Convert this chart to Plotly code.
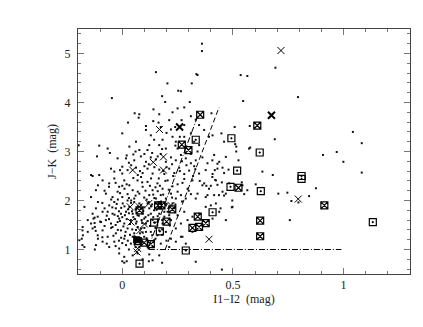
import plotly.graph_objects as go

# J-K vs I1-I2 colour-colour diagram

# field sources (small dots), (I1-I2, J-K)
field_dots = [
    # J-K above 4
    (0.36, 5.20), (0.36, 5.05), (0.152, 4.62), (0.335, 4.58), (0.34, 4.56), (0.204, 4.39),
    (0.314, 4.39), (0.253, 4.24), (0.265, 4.23), (0.18, 4.13), (-0.047, 4.09), (0.305, 4.01),
    (0.692, 4.71), (0.535, 4.56), (0.565, 4.54), (0.794, 4.11), (0.546, 4.03), (0.194, 4.01),
    # 3.5 - 4
    (0.056, 3.78), (0.077, 3.76), (0.074, 3.69), (0.141, 3.86), (0.167, 3.76), (0.25, 3.88),
    (0.227, 3.80), (0.31, 3.72), (0.212, 3.64), (0.164, 3.59), (0.107, 3.52), (0.026, 3.59),
    (0.268, 3.64), (0.332, 3.65), (0.239, 3.50), (0.174, 3.50), (0.28, 3.54), (0.403, 3.78),
    (0.508, 3.50), (0.576, 3.52), (0.14, 3.62), (0.28, 3.9), (0.22, 3.45),
    # 3 - 3.5
    (0.2, 3.38), (0.0, 3.37), (-0.104, 3.12), (-0.066, 3.06), (-0.056, 2.97), (0.107, 3.44),
    (0.129, 3.33), (0.144, 3.24), (0.182, 3.24), (0.227, 3.30), (0.242, 3.20), (0.122, 3.13),
    (0.167, 3.13), (0.197, 3.06), (0.25, 3.06), (0.062, 3.20), (0.032, 3.10), (0.077, 3.03),
    (0.114, 3.03), (0.28, 3.30), (0.31, 3.37), (0.325, 3.20), (0.347, 3.13), (0.347, 3.54),
    (0.37, 3.44), (0.392, 3.30), (0.408, 3.33), (0.448, 3.37), (0.46, 3.20), (0.515, 3.10),
    (0.515, 3.00), (0.689, 3.25), (0.51, 3.15), (0.578, 3.08), (0.573, 3.06), (-0.197, 3.13),
    (1.042, 3.40), (1.082, 3.17), (0.24, 3.12), (0.1, 2.95), (0.06, 3.0), (0.02, 2.92),
    (0.18, 3.05), (0.26, 3.3), (0.34, 3.0), (0.31, 2.95),
    # 2.5 - 3
    (-0.021, 2.86), (0.017, 2.86), (0.054, 2.82), (0.084, 2.90), (0.107, 2.79), (0.129, 2.88),
    (0.152, 2.84), (0.174, 2.95), (0.197, 2.79), (0.22, 2.88), (0.242, 2.82), (0.265, 2.93),
    (0.287, 2.86), (0.31, 2.76), (0.332, 2.82), (0.362, 2.88), (0.385, 2.76), (0.415, 2.93),
    (0.438, 2.79), (0.468, 2.89), (-0.051, 2.65), (-0.036, 2.59), (0.0, 2.69), (0.024, 2.62),
    (0.062, 2.67), (0.092, 2.56), (0.114, 2.65), (0.137, 2.55), (0.167, 2.63), (0.19, 2.54),
    (0.212, 2.65), (0.235, 2.56), (0.257, 2.67), (0.28, 2.54), (0.302, 2.61), (0.325, 2.70),
    (0.347, 2.55), (0.377, 2.62), (0.408, 2.54), (0.43, 2.65), (0.46, 2.56), (-0.104, 2.52),
    (-0.134, 2.50), (-0.141, 2.52), (-0.114, 2.90), (0.407, 2.82), (0.43, 2.75), (0.453, 2.67),
    (0.418, 2.62), (0.48, 2.63), (0.525, 2.82), (0.633, 2.59), (0.68, 2.52), (1.082, 2.57),
    (0.907, 2.93), (0.969, 2.99), (0.999, 2.79), (0.0, 2.55), (0.04, 2.72), (0.08, 2.6),
    (0.12, 2.74), (0.16, 2.9), (0.2, 2.68), (0.26, 2.6), (0.29, 2.72), (0.33, 2.64),
    (0.03, 2.77), (0.07, 2.52), (0.1, 2.7), (0.145, 2.68), (0.185, 2.6), (0.225, 2.74),
    (0.27, 2.8), (-0.01, 2.62), (0.05, 2.94), (0.135, 2.97),
    # 2 - 2.5
    (-0.089, 2.41), (-0.059, 2.35), (-0.036, 2.45), (-0.014, 2.28), (0.009, 2.41), (0.032, 2.31),
    (0.047, 2.21), (0.069, 2.41), (0.092, 2.28), (0.114, 2.38), (0.137, 2.21), (0.159, 2.35),
    (0.182, 2.24), (0.205, 2.41), (0.227, 2.29), (0.25, 2.18), (0.272, 2.36), (0.295, 2.24),
    (0.317, 2.41), (0.34, 2.14), (0.362, 2.31), (0.392, 2.24), (0.423, 2.41), (0.453, 2.18),
    (0.483, 2.35), (-0.074, 2.14), (-0.044, 2.07), (-0.021, 2.18), (0.0, 2.07), (0.024, 2.13),
    (0.054, 2.04), (0.077, 2.14), (0.099, 2.06), (0.122, 2.11), (0.152, 2.04), (0.174, 2.11),
    (0.197, 2.04), (0.22, 2.14), (0.242, 2.04), (0.265, 2.11), (0.287, 2.04), (0.31, 2.13),
    (0.332, 2.04), (0.377, 2.07), (0.415, 2.11), (-0.119, 2.21), (-0.141, 2.07), (-0.11, 2.31),
    (-0.11, 1.97), (0.37, 2.35), (0.38, 2.30), (0.40, 2.30), (0.43, 2.32), (0.45, 2.37),
    (0.385, 2.11), (0.437, 2.11), (0.46, 2.10), (0.497, 2.0), (0.543, 2.31), (0.565, 2.21),
    (0.603, 2.33), (0.551, 2.13), (0.54, 2.37), (0.875, 2.25), (0.844, 2.09), (0.746, 2.16),
    (0.705, 2.14), (0.42, 2.42), (0.407, 2.48), (0.468, 2.14), (0.145, 2.05), (0.16, 2.19),
    (0.17, 2.3), (0.185, 2.12), (0.195, 2.4), (0.21, 2.22), (0.225, 2.06), (0.23, 2.5),
    (0.25, 2.33), (0.28, 2.44), (0.3, 2.2), (0.32, 2.5), (0.35, 2.4), (-0.08, 2.2),
    (-0.06, 2.28), (-0.05, 2.02), (-0.03, 2.36), (-0.01, 2.15), (0.01, 2.24), (0.03, 2.05),
    (0.05, 2.46), (0.07, 2.18), (0.09, 2.37), (0.11, 2.02), (0.13, 2.45), (0.15, 2.27),
    (0.02, 2.33), (0.06, 2.1), (0.085, 2.48), (0.105, 2.2), (0.125, 2.3), (0.14, 2.12),
    (0.04, 2.0), (-0.02, 2.02), (0.0, 2.3), (0.165, 2.45),
    # 1.5 - 2
    (-0.134, 1.73), (-0.111, 1.67), (-0.089, 1.77), (-0.074, 1.60), (-0.059, 1.90), (-0.044, 1.73),
    (-0.029, 1.84), (-0.014, 1.63), (0.002, 1.94), (0.017, 1.77), (0.032, 1.87), (0.039, 1.60),
    (0.054, 1.97), (0.069, 1.70), (0.084, 1.84), (0.099, 1.63), (0.114, 1.94), (0.129, 1.73),
    (0.144, 1.80), (0.159, 1.56), (0.174, 1.87), (0.19, 1.67), (0.205, 1.77), (0.22, 1.60),
    (0.235, 1.84), (0.25, 1.70), (0.265, 1.53), (0.28, 1.77), (0.295, 1.60), (0.317, 1.67),
    (0.347, 1.73), (0.377, 1.87), (0.408, 1.63), (0.438, 1.77), (0.468, 1.60), (0.498, 1.87),
    (-0.156, 1.60), (-0.141, 1.53), (-0.119, 1.84), (-0.096, 1.56), (-0.066, 1.77), (-0.051, 1.53),
    (-0.036, 1.97), (-0.021, 1.56), (-0.006, 1.73), (0.009, 1.53), (0.024, 2.0), (0.047, 1.73),
    (0.062, 1.53), (0.077, 1.94), (0.092, 1.73), (0.107, 1.53), (0.122, 1.84), (0.137, 1.60),
    (0.152, 1.94), (0.167, 1.73), (0.182, 1.53), (0.197, 1.90), (0.212, 1.70), (0.227, 1.94),
    (-0.125, 1.65), (-0.171, 1.87), (0.757, 1.60), (0.796, 1.96), (0.764, 1.99), (0.495, 1.86),
    (0.444, 1.84), (0.40, 1.90), (0.423, 1.94), (-0.07, 1.69), (-0.06, 1.62), (-0.045, 1.86),
    (-0.035, 1.71), (-0.025, 1.93), (-0.015, 1.78), (-0.01, 1.58), (0.0, 1.66), (0.01, 1.88),
    (0.02, 1.62), (0.03, 1.74), (0.035, 1.52), (0.04, 1.95), (0.05, 1.66), (0.06, 1.82),
    (0.065, 1.57), (0.075, 1.69), (0.085, 1.91), (0.09, 1.54), (0.095, 1.79), (0.105, 1.66),
    (0.115, 1.58), (0.12, 1.97), (0.13, 1.88), (0.14, 1.66), (0.155, 1.81), (0.165, 1.62),
    (0.175, 1.98), (0.19, 1.77), (0.2, 1.93), (0.24, 1.92), (0.27, 1.98), (-0.09, 1.95),
    (-0.1, 1.57), (-0.13, 1.63), (-0.08, 1.84), (-0.02, 1.68), (0.012, 1.7), (0.027, 1.82),
    (0.044, 1.78), (0.058, 1.62), (0.072, 1.88), (0.088, 1.6), (0.1, 1.86), (0.118, 1.7),
    (0.135, 1.92), (0.148, 1.55), (0.16, 1.68), (0.18, 1.6), (0.21, 1.85), (-0.005, 1.85),
    # 1 - 1.5
    (-0.179, 1.46), (-0.156, 1.36), (-0.134, 1.43), (-0.111, 1.29), (-0.089, 1.39), (-0.066, 1.26),
    (-0.044, 1.46), (-0.029, 1.33), (-0.006, 1.39), (0.009, 1.22), (0.024, 1.43), (0.039, 1.12),
    (0.054, 1.33), (0.069, 1.19), (0.084, 1.43), (0.099, 1.26), (0.114, 1.09), (0.129, 1.36),
    (0.144, 1.19), (0.159, 1.29), (0.174, 1.12), (0.197, 1.36), (0.22, 1.22), (0.242, 1.43),
    (0.265, 1.26), (0.287, 1.12), (0.317, 1.36), (-0.194, 1.19), (-0.171, 1.05), (-0.119, 1.09),
    (-0.089, 1.16), (-0.059, 1.05), (-0.036, 1.16), (-0.014, 1.02), (0.017, 1.09), (0.047, 1.26),
    (0.077, 1.05), (0.107, 1.36), (0.137, 1.05), (0.167, 1.39), (0.212, 1.05), (0.242, 1.16),
    (-0.125, 1.54), (-0.124, 1.46), (-0.11, 1.22), (-0.124, 1.0), (-0.18, 1.39), (-0.178, 1.29),
    (-0.183, 1.22), (-0.18, 1.09), (0.272, 1.26), (-0.08, 1.48), (-0.05, 1.44), (-0.04, 1.28),
    (-0.03, 1.50), (-0.02, 1.40), (-0.005, 1.24), (0.005, 1.47), (0.015, 1.36), (0.025, 1.18),
    (0.045, 1.41), (0.055, 1.27), (0.07, 1.46), (0.08, 1.33), (0.1, 1.44), (0.11, 1.23),
    (0.125, 1.48), (0.135, 1.29), (0.15, 1.44), (0.18, 1.41), (0.215, 1.49), (-0.12, 1.38),
    (-0.09, 1.25), (-0.07, 1.12), (-0.03, 1.07), (0.0, 1.13), (0.03, 1.0), (0.06, 1.05),
    (0.09, 1.15), (0.12, 1.02), (0.15, 1.22), (0.18, 1.3), (0.2, 1.18), (0.035, 1.3),
    (0.062, 1.4), (0.092, 1.35), (0.012, 1.28), (-0.015, 1.18),
    # below 1
    (-0.014, 0.92), (0.009, 0.85), (0.047, 0.88), (0.069, 0.92), (0.092, 0.80), (0.122, 0.90),
    (0.0, 0.76), (0.009, 0.73), (0.02, 0.76), (0.12, 0.76), (0.18, 0.73), (0.332, 0.75),
    (0.45, 0.59), (0.137, 0.78), (0.167, 0.88),
]

# open squares with a central dot
sq_dot_x = [0.332, 0.493, 0.621, 0.519, 0.489, 0.626, 0.81, 0.81, 1.132, 0.408, 0.287, 0.17, 0.144, 0.078]
sq_dot_y = [3.24, 3.27, 2.98, 2.61, 2.28, 2.19, 2.50, 2.44, 1.56, 1.76, 0.98, 1.37, 1.55, 0.71]

# squares with a cross inside
sq_x_x = [0.352, 0.269, 0.299, 0.61, 0.525, 0.913, 0.623, 0.623, 0.341, 0.377, 0.347, 0.317,
          0.20, 0.226, 0.162, 0.177, 0.129, 0.099, 0.078, 0.07]
sq_x_y = [3.75, 3.14, 3.03, 3.53, 2.26, 1.90, 1.59, 1.27, 1.67, 1.54, 1.46, 1.44,
          1.57, 1.82, 1.90, 1.90, 1.11, 1.14, 1.80, 1.17]

# crosses
cross_x = [0.717, 0.795, 0.392, 0.168, 0.186, 0.14, 0.186, 0.047, 0.22, 0.036, 0.077, 0.12,
           0.04, 0.10, 0.08, 0.066, 0.07]
cross_y = [5.06, 2.03, 1.21, 3.45, 2.89, 2.78, 2.62, 2.62, 1.90, 1.87, 1.87, 1.94,
           1.56, 1.52, 1.39, 0.95, 1.02]
cross_bold_x = [0.674, 0.259]
cross_bold_y = [3.74, 3.50]

# filled square
filled_x = [0.065]
filled_y = [1.20]

# boundary lines
dashdot_x = [0.34, 0.115, 0.99]
dashdot_y = [3.71, 1.0, 1.0]
dashed_x = [0.194, 0.438]
dashed_y = [1.0, 3.91]

x_ticks = [0, 0.5, 1]
x_ticktext = ['0', '0.5', '1']
y_ticks = [1, 2, 3, 4, 5]

fig = go.Figure()

fig.add_trace(go.Scatter(
    x=[p[0] for p in field_dots], y=[p[1] for p in field_dots], mode='markers',
    marker=dict(symbol='square', size=2, color='#111', line=dict(width=0)),
))
fig.add_trace(go.Scatter(x=dashdot_x, y=dashdot_y, mode='lines',
                         line=dict(color='black', width=1, dash='6px,2px,1px,2px')))
fig.add_trace(go.Scatter(x=dashed_x, y=dashed_y, mode='lines',
                         line=dict(color='black', width=1, dash='5px,3px')))
fig.add_trace(go.Scatter(
    x=sq_dot_x, y=sq_dot_y, mode='markers',
    marker=dict(symbol='square-open-dot', size=7, color='black', line=dict(width=1.2, color='black')),
))
fig.add_trace(go.Scatter(
    x=sq_x_x, y=sq_x_y, mode='markers',
    marker=dict(symbol='square-x-open', size=7, color='black', line=dict(width=1.2, color='black')),
))
fig.add_trace(go.Scatter(
    x=cross_x, y=cross_y, mode='markers',
    marker=dict(symbol='x-thin-open', size=7, color='black', line=dict(width=1, color='black')),
))
fig.add_trace(go.Scatter(
    x=cross_bold_x, y=cross_bold_y, mode='markers',
    marker=dict(symbol='x-thin-open', size=7, color='black', line=dict(width=2, color='black')),
))
fig.add_trace(go.Scatter(
    x=filled_x, y=filled_y, mode='markers',
    marker=dict(symbol='square', size=7, color='black'),
))

axis_style = dict(
    showgrid=False, zeroline=False, showline=True, linecolor='#444', linewidth=1,
    mirror='ticks', ticks='inside', ticklen=6, tickcolor='#777', tickwidth=1,
    tickfont=dict(family='Liberation Serif', size=12, color='#222'),
)

fig.update_xaxes(
    range=[-0.2, 1.3], tickvals=x_ticks, ticktext=x_ticktext,
    minor=dict(dtick=0.1, tick0=0, ticks='inside', ticklen=3, tickcolor='#777'),
    title=dict(text='I1\u2212I2  (mag)', font=dict(family='Liberation Serif', size=12, color='#222'),
               standoff=0),
    **axis_style,
)
fig.update_yaxes(
    range=[0.5, 5.5], tickvals=y_ticks,
    minor=dict(dtick=0.2, tick0=0, ticks='inside', ticklen=3, tickcolor='#777'),
    title=dict(text='J\u2212K  (mag)', font=dict(family='Liberation Serif', size=12, color='#222'),
               standoff=5),
    ticklabelstandoff=4,
    **axis_style,
)

# page body adds 8px, so margins are set to land the frame where the reference has it
fig.update_layout(
    width=423, height=327,
    margin=dict(l=70, r=21, t=21, b=61),
    plot_bgcolor='white', paper_bgcolor='white',
    showlegend=False,
)

fig.write_html("out.html")
